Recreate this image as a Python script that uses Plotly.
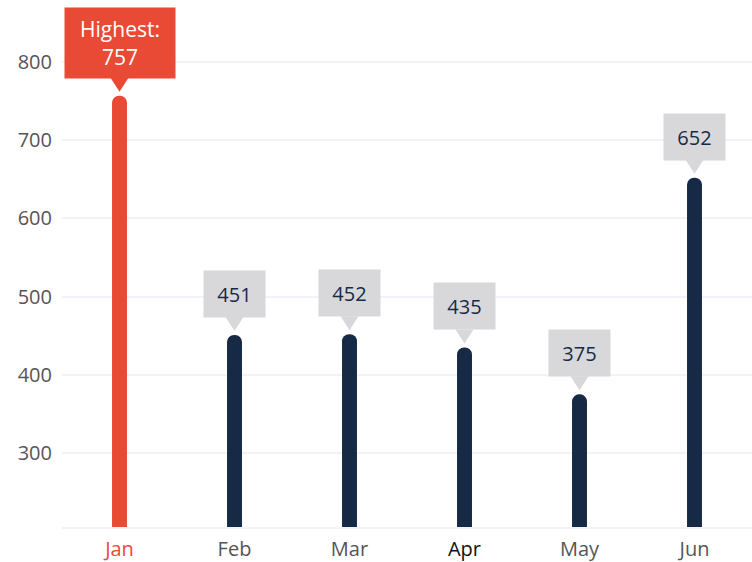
import plotly.graph_objects as go

months = ["Jan", "Feb", "Mar", "Apr", "May", "Jun"]
values = [757, 451, 452, 435, 375, 652]
y_ticks = [300, 400, 500, 600, 700, 800]

RED = "#e84a35"
NAVY = "#172a45"
BOX = "#d8d8da"
FONT = "Open Sans"

imax = values.index(max(values))
colors = [RED if i == imax else NAVY for i in range(len(values))]

fig = go.Figure()
fig.add_trace(go.Bar(
    x=months, y=values, width=0.13,
    marker=dict(color=colors, cornerradius=7, line=dict(width=0)),
    hoverinfo="skip",
))

tick_colors = {"Jan": RED, "Apr": "#111111"}
ticktext = [f'<span style="color:{tick_colors.get(m, "#555555")}">{m}</span>' for m in months]

annotations = []
shapes = []
for i, (m, v) in enumerate(zip(months, values)):
    if i == imax:
        txt, bg, fc, w, h, fs = f"Highest:<br>{v}", RED, "white", 110, 70, 21
    else:
        txt, bg, fc, w, h, fs = str(v), BOX, NAVY, 61, 46, 20
    annotations.append(dict(
        x=m, y=v, xref="x", yref="y", text=txt, showarrow=False,
        yanchor="bottom", yshift=17, width=w, height=h, bgcolor=bg,
        borderpad=0, font=dict(family=FONT, size=fs, color=fc), align="center",
    ))
    shapes.append(dict(
        type="path", xref="x", yref="y", xsizemode="pixel", ysizemode="pixel",
        xanchor=m, yanchor=v, path="M -9,18 L 9,18 L 0,4 Z",
        fillcolor=bg, line=dict(width=0), layer="above",
    ))

fig.update_layout(
    width=752, height=562,
    margin=dict(l=62, r=0, t=0, b=35),
    paper_bgcolor="white", plot_bgcolor="white",
    showlegend=False,
    font=dict(family=FONT, size=20, color="#555555"),
    xaxis=dict(
        tickmode="array", tickvals=months, ticktext=ticktext,
        showgrid=False, showline=True, linecolor="#f2f2f8", linewidth=2,
        ticks="", tickfont=dict(size=20), range=[-0.5, 5.5],
        ticklabelstandoff=3,
    ),
    yaxis=dict(
        range=[205.4, 879.3], tickvals=y_ticks, showgrid=True,
        gridcolor="#f2f2f8", gridwidth=2, zeroline=False, ticks="",
        ticklabelstandoff=9, tickfont=dict(size=20, color="#555555"),
    ),
    annotations=annotations, shapes=shapes,
)

fig.write_html("out.html", config={"displayModeBar": False},
               post_script="document.body.style.margin='0';")
